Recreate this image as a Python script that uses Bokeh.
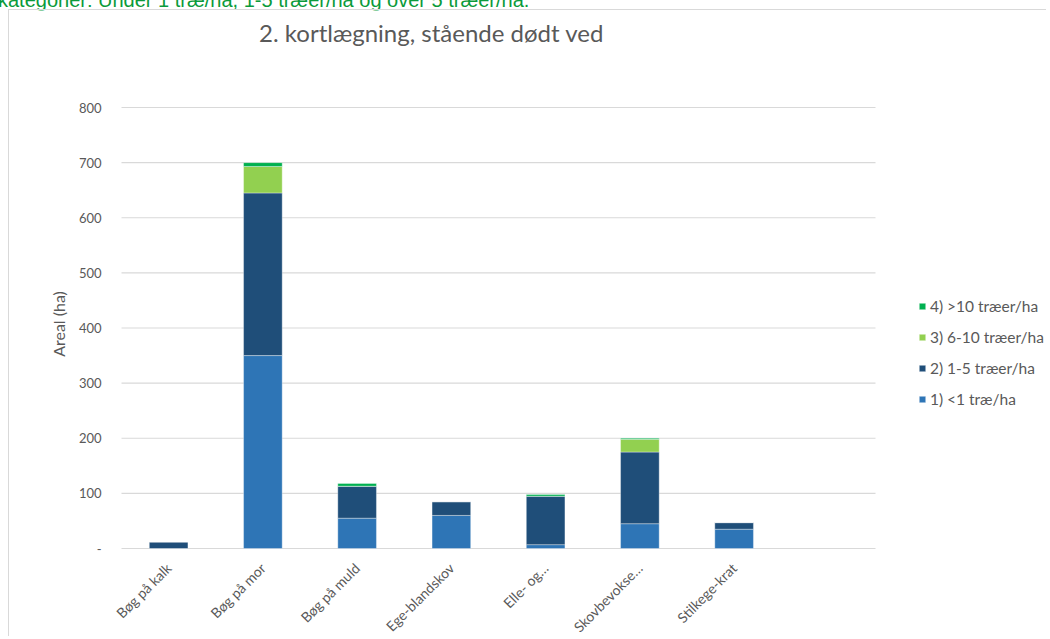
from bokeh.plotting import figure
from bokeh.models import (ColumnDataSource, Range1d, FixedTicker, Legend, LegendItem,
                          Label, Div)
from bokeh.layouts import column
from bokeh.embed import file_html
from bokeh.resources import INLINE
import math

# ---- data ----
categories = ["Bøg på kalk", "Bøg på mor", "Bøg på muld", "Ege-blandskov",
              "Elle- og…", "Skovbevokse…", "Stilkege-krat"]
s1_lt1 = [0, 350, 55, 60, 7, 45, 35]        # 1) <1 træ/ha
s2_1_5 = [12, 295, 58, 25, 88, 130, 12]     # 2) 1-5 træer/ha
s3_6_10 = [0, 48, 0, 0, 0, 23, 0]           # 3) 6-10 træer/ha
s4_gt10 = [0, 7, 5, 0, 3, 2, 0]             # 4) >10 træer/ha
series_names = ["1) <1 træ/ha", "2) 1-5 træer/ha", "3) 6-10 træer/ha", "4) >10 træer/ha"]
y_ticks = [0, 100, 200, 300, 400, 500, 600, 700, 800]
n_slots = 8  # category slots on the axis (last one empty)

title_text = "2. kortlægning, stående dødt ved"
note_text = "kategorier: Under 1 træ/ha, 1-5 træer/ha og over 5 træer/ha."

colors = ["#2E75B6", "#1F4E79", "#92D050", "#00B050"]
keys = ["s1", "s2", "s3", "s4"]

xpos = [i + 0.5 for i in range(len(categories))]
src = ColumnDataSource(dict(x=xpos, s1=s1_lt1, s2=s2_1_5, s3=s3_6_10, s4=s4_gt10))

FONT = "Lato"
GRAY = "#595959"

# geometry: the plot area (8 slots x 0..800) is 754 x 441 px, placed at
# left=112, top=97 inside a 1038 x 627 canvas; the frame spans the whole canvas
W, H = 1038, 627
LEFT, TOP = 112, 97
PLOT_W, PLOT_H = 754, 441
kx = PLOT_W / n_slots          # px per slot
ky = PLOT_H / 800              # px per hectare
x_min = -LEFT / kx
x_max = (W - LEFT) / kx
y_max = 800 + TOP / ky
y_min = -(H - TOP - PLOT_H) / ky

p = figure(width=W, height=H, output_backend="svg", toolbar_location=None,
           x_range=Range1d(x_min, x_max), y_range=Range1d(y_min, y_max),
           min_border_left=0, min_border_right=0, min_border_top=0,
           min_border_bottom=0)
p.outline_line_color = None
p.margin = (0, 0, 0, 8)
p.styles = {"border-left": "1px solid #d9d9d9", "border-top": "1px solid #d9d9d9"}

# horizontal gridlines across the category slots
grid_src = ColumnDataSource(dict(y=y_ticks, x0=[0] * len(y_ticks),
                                 x1=[n_slots] * len(y_ticks)))
p.segment(x0="x0", x1="x1", y0="y", y1="y", source=grid_src,
          line_color="#d9d9d9", line_width=1.2)

rs = p.vbar_stack(keys, x="x", width=0.41, source=src, color=colors,
                  line_color="#ffffff", line_width=0.6, line_alpha=0.6)

# title
p.add_layout(Label(x=(422 - LEFT) / kx, y=800 + (TOP - 22) / ky,
                   text=title_text, text_align="center", text_baseline="middle",
                   text_font=FONT, text_font_size="24px", text_color=GRAY))

# axes
p.yaxis.fixed_location = 0
p.yaxis.ticker = FixedTicker(ticks=y_ticks)
p.yaxis.major_label_overrides = {0: "-"}
p.yaxis.axis_line_color = None
p.yaxis.major_tick_line_color = None
p.yaxis.minor_tick_line_color = None
p.yaxis.major_label_text_font = FONT
p.yaxis.major_label_text_font_size = "13px"
p.yaxis.major_label_text_color = GRAY
p.yaxis.major_label_standoff = 14
p.yaxis.axis_label = "Areal (ha)"
p.yaxis.axis_label_text_font = FONT
p.yaxis.axis_label_text_font_size = "16px"
p.yaxis.axis_label_text_font_style = "normal"
p.yaxis.axis_label_text_color = GRAY
p.yaxis.axis_label_standoff = 8

p.xaxis.fixed_location = 0
p.xaxis.ticker = FixedTicker(ticks=xpos)
p.xaxis.major_label_overrides = {x: c for x, c in zip(xpos, categories)}
p.xaxis.major_label_orientation = math.pi / 4
p.xaxis.axis_line_color = None
p.xaxis.major_tick_line_color = None
p.xaxis.minor_tick_line_color = None
p.xaxis.major_label_text_font = FONT
p.xaxis.major_label_text_font_size = "14px"
p.xaxis.major_label_text_color = GRAY
p.xaxis.major_label_standoff = 11

p.xgrid.grid_line_color = None
p.ygrid.grid_line_color = None

# legend (reverse order)
items = [LegendItem(label=series_names[i], renderers=[rs[i]]) for i in range(4)][::-1]
leg = Legend(items=items, location=(909, 228), padding=0, margin=0,
             glyph_width=8, glyph_height=8, label_height=20,
             spacing=11,
             label_text_font=FONT, label_text_font_size="15.5px",
             label_text_color=GRAY, label_standoff=4,
             background_fill_alpha=0, border_line_color=None)
p.add_layout(leg)

note = Div(text=note_text, width=760, height=18, margin=(-9, 0, 0, -2),
           styles={"color": "#0a9a3a", "font-size": "20px",
                   "font-family": "Liberation Sans, Arial, sans-serif",
                   "white-space": "nowrap", "line-height": "18px"})

layout = column(note, p, spacing=0)

open("out.html", "w").write(file_html(layout, INLINE))
